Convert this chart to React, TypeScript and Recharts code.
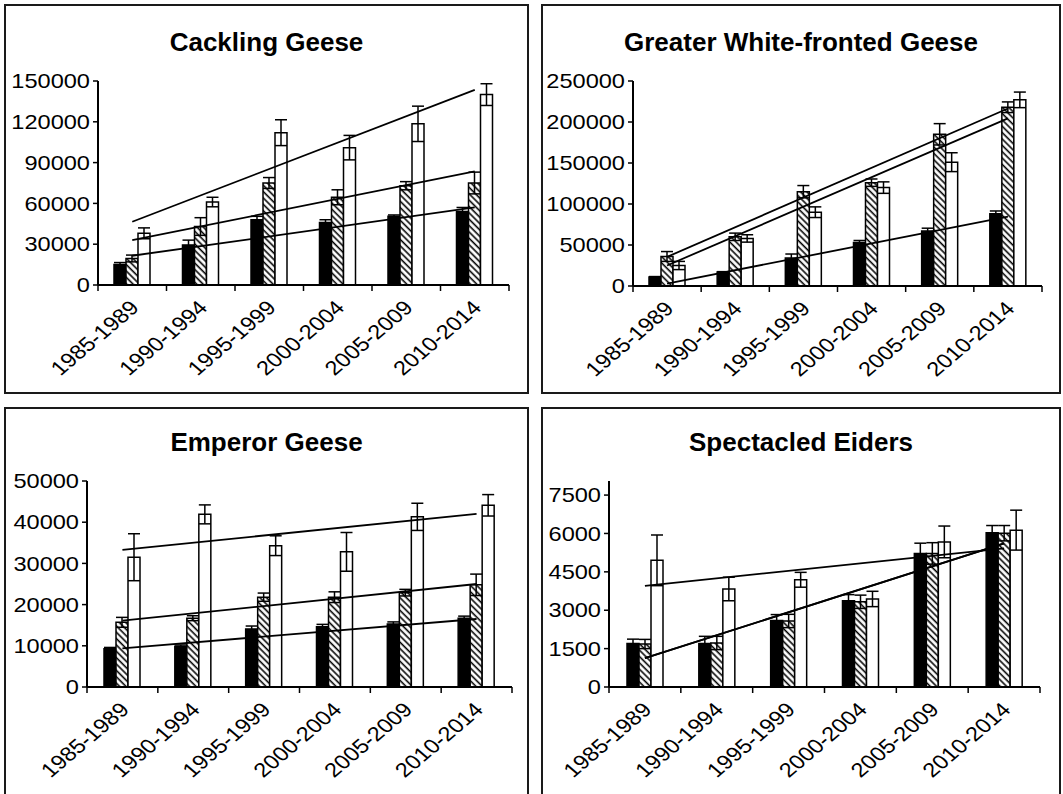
import React from "react";
import {
  ComposedChart,
  Bar,
  Line,
  XAxis,
  YAxis,
  ErrorBar,
  ReferenceArea,
} from "recharts";

const periods = ["1985-1989", "1990-1994", "1995-1999", "2000-2004", "2005-2009", "2010-2014"];

// Cackling Geese
const cacklingBlack = [15000, 29500, 48000, 46000, 50500, 54000];
const cacklingBlackErr = [1500, 3500, 2500, 2000, 1000, 3000];
const cacklingHatched = [19500, 43000, 75000, 64500, 73000, 75000];
const cacklingHatchedErr = [2500, 6500, 4000, 5500, 3000, 8000];
const cacklingWhite = [38000, 61000, 112000, 101000, 118500, 140000];
const cacklingWhiteErr = [4000, 3500, 9500, 9000, 13000, 8000];
const cacklingBlackTrend = [21500, null, null, null, null, 57000];
const cacklingHatchedTrend = [33000, null, null, null, null, 83500];
const cacklingWhiteTrend = [46500, null, null, null, null, 143500];
const cacklingTicks = [0, 30000, 60000, 90000, 120000, 150000];

// Greater White-fronted Geese
const gwfBlack = [11000, 17000, 34000, 53000, 67000, 88000];
const gwfBlackErr = [500, 500, 5000, 2500, 3500, 3500];
const gwfHatched = [36000, 60000, 115000, 126000, 185000, 218000];
const gwfHatchedErr = [6000, 4500, 7500, 4500, 13000, 6500];
const gwfWhite = [25000, 58000, 90000, 120000, 151000, 227000];
const gwfWhiteErr = [5000, 4500, 6500, 7000, 11500, 9500];
const gwfBlackTrend = [3000, null, null, null, null, 84500];
const gwfHatchedTrend = [35500, null, null, null, null, 216500];
const gwfWhiteTrend = [25000, null, null, null, null, 204500];
const gwfTicks = [0, 50000, 100000, 150000, 200000, 250000];

// Emperor Geese
const emperorBlack = [9300, 9900, 14100, 14600, 15300, 16700];
const emperorBlackErr = [300, 300, 700, 600, 500, 500];
const emperorHatched = [15700, 16700, 21800, 21800, 22900, 24800];
const emperorHatchedErr = [1200, 600, 1000, 1300, 800, 2600];
const emperorWhite = [31500, 41900, 34300, 32800, 41300, 44100];
const emperorWhiteErr = [5700, 2300, 2400, 4700, 3300, 2600];
const emperorBlackTrend = [9400, null, null, null, null, 16500];
const emperorHatchedTrend = [16100, null, null, null, null, 25000];
const emperorWhiteTrend = [33300, null, null, null, null, 42000];
const emperorTicks = [0, 10000, 20000, 30000, 40000, 50000];

// Spectacled Eiders
const eiderBlack = [1700, 1700, 2600, 3370, 5220, 6030];
const eiderBlackErr = [170, 280, 230, 240, 400, 280];
const eiderHatched = [1680, 1720, 2580, 3330, 5220, 6010];
const eiderHatchedErr = [180, 260, 260, 260, 420, 300];
const eiderWhite = [4950, 3830, 4190, 3440, 5670, 6130];
const eiderWhiteErr = [990, 460, 290, 300, 620, 780];
const eiderBlackTrend = [1130, null, null, null, null, 5610];
const eiderHatchedTrend = [1130, null, null, null, null, 5610];
const eiderWhiteTrend = [3950, null, null, null, null, 5420];
const eiderTicks = [0, 1500, 3000, 4500, 6000, 7500];

const FONT = '"Liberation Sans", Arial, Helvetica, sans-serif';
const STRETCH = 1.18; // tick labels in the source are drawn a bit wider than tall

type Series = (number | null)[];

type PanelProps = {
  id: string;
  title: string;
  left: number;
  top: number;
  width: number;
  titleTop: number;
  yMax: number;
  yTicks: number[];
  yWidth: number;
  marginTop: number;
  marginRight: number;
  xHeight: number;
  black: number[];
  blackErr: number[];
  hatched: number[];
  hatchedErr: number[];
  white: number[];
  whiteErr: number[];
  blackTrend: Series;
  hatchedTrend: Series;
  whiteTrend: Series;
};

const PANEL_H = 390;

function PeriodTick(props: any) {
  const { x, y, payload, index, half, last } = props;
  const ax = x + 8;
  const ay = y + 24;
  return (
    <g>
      <line x1={x - half} y1={y} x2={x - half} y2={y + 6} stroke="#000" strokeWidth={1.5} />
      {index === last && (
        <line x1={x + half} y1={y} x2={x + half} y2={y + 6} stroke="#000" strokeWidth={1.5} />
      )}
      <text
        x={0}
        y={0}
        textAnchor="end"
        transform={`translate(${ax} ${ay}) scale(${STRETCH} 1) rotate(-45)`}
        fontSize={20}
        fontFamily={FONT}
        fill="#000"
      >
        {payload.value}
      </text>
    </g>
  );
}

function CountTick(props: any) {
  const { x, y, payload } = props;
  return (
    <text
      x={0}
      y={0}
      dy="0.355em"
      textAnchor="end"
      transform={`translate(${x} ${y}) scale(${STRETCH} 1)`}
      fontSize={20}
      fontFamily={FONT}
      fill="#000"
    >
      {payload.value}
    </text>
  );
}

function Panel(p: PanelProps) {
  const chartW = p.width - 4;
  const chartH = PANEL_H - 4;
  const half = (chartW - p.yWidth - p.marginRight) / 6 / 2;

  const rows = periods.map((period, i) => ({
    period,
    black: p.black[i],
    blackErr: p.blackErr[i],
    hatched: p.hatched[i],
    hatchedErr: p.hatchedErr[i],
    white: p.white[i],
    whiteErr: p.whiteErr[i],
    blackTrend: p.blackTrend[i],
    hatchedTrend: p.hatchedTrend[i],
    whiteTrend: p.whiteTrend[i],
  }));

  const hatchId = `hatch-${p.id}`;

  return (
    <div
      style={{
        position: "absolute",
        left: p.left,
        top: p.top,
        width: p.width,
        height: PANEL_H,
        boxSizing: "border-box",
        border: "2px solid #1a1a1a",
        background: "#fff",
      }}
    >
      <div
        style={{
          position: "absolute",
          left: 0,
          right: 0,
          top: p.titleTop,
          textAlign: "center",
          fontFamily: FONT,
          fontWeight: "bold",
          fontSize: 26,
          lineHeight: "30px",
          color: "#000",
        }}
      >
        {p.title}
      </div>
      <ComposedChart
        width={chartW}
        height={chartH}
        data={rows}
        margin={{ top: p.marginTop, right: p.marginRight, bottom: 0, left: 0 }}
        barSize={12}
        barGap={0}
      >
        <defs>
          <pattern
            id={hatchId}
            patternUnits="userSpaceOnUse"
            width={4.5}
            height={4.5}
            patternTransform="rotate(-45)"
          >
            <rect width={4.5} height={4.5} fill="#fff" />
            <line x1={1.2} y1={0} x2={1.2} y2={4.5} stroke="#000" strokeWidth={1.6} />
          </pattern>
        </defs>
        <ReferenceArea fill="none" stroke="#000" strokeWidth={1.5} />
        <XAxis
          dataKey="period"
          interval={0}
          height={p.xHeight}
          tickLine={false}
          tickSize={0}
          tickMargin={0}
          axisLine={{ stroke: "#000", strokeWidth: 2 }}
          tick={(t: any) => <PeriodTick {...t} half={half} last={periods.length - 1} />}
        />
        <YAxis
          type="number"
          domain={[0, p.yMax]}
          ticks={p.yTicks}
          interval={0}
          allowDataOverflow
          width={p.yWidth}
          tickSize={5}
          tickMargin={3}
          axisLine={{ stroke: "#000", strokeWidth: 2 }}
          tickLine={{ stroke: "#000", strokeWidth: 1.5 }}
          tick={(t: any) => <CountTick {...t} />}
        />
        <Bar dataKey="black" fill="#000" stroke="#000" strokeWidth={1.5} isAnimationActive={false}>
          <ErrorBar dataKey="blackErr" width={6} stroke="#000" strokeWidth={1.5} />
        </Bar>
        <Bar dataKey="hatched" fill={`url(#${hatchId})`} stroke="#000" strokeWidth={1.5} isAnimationActive={false}>
          <ErrorBar dataKey="hatchedErr" width={6} stroke="#000" strokeWidth={1.5} />
        </Bar>
        <Bar dataKey="white" fill="#fff" stroke="#000" strokeWidth={1.5} isAnimationActive={false}>
          <ErrorBar dataKey="whiteErr" width={6} stroke="#000" strokeWidth={1.5} />
        </Bar>
        <Line dataKey="blackTrend" type="linear" connectNulls dot={false} activeDot={false} stroke="#000" strokeWidth={1.8} isAnimationActive={false} />
        <Line dataKey="hatchedTrend" type="linear" connectNulls dot={false} activeDot={false} stroke="#000" strokeWidth={1.8} isAnimationActive={false} />
        <Line dataKey="whiteTrend" type="linear" connectNulls dot={false} activeDot={false} stroke="#000" strokeWidth={1.8} isAnimationActive={false} />
      </ComposedChart>
    </div>
  );
}

export default function App() {
  return (
    <div
      style={{
        position: "fixed",
        left: 0,
        top: 0,
        width: 1063,
        height: 794,
        overflow: "hidden",
        background: "#fff",
      }}
    >
      <Panel
        id="cackling"
        title="Cackling Geese"
        left={4}
        top={4}
        width={525}
        titleTop={21}
        yMax={150000}
        yTicks={cacklingTicks}
        yWidth={92}
        marginTop={75}
        marginRight={18}
        xHeight={107}
        black={cacklingBlack}
        blackErr={cacklingBlackErr}
        hatched={cacklingHatched}
        hatchedErr={cacklingHatchedErr}
        white={cacklingWhite}
        whiteErr={cacklingWhiteErr}
        blackTrend={cacklingBlackTrend}
        hatchedTrend={cacklingHatchedTrend}
        whiteTrend={cacklingWhiteTrend}
      />
      <Panel
        id="gwf"
        title="Greater White-fronted Geese"
        left={541}
        top={4}
        width={520}
        titleTop={21}
        yMax={250000}
        yTicks={gwfTicks}
        yWidth={90}
        marginTop={75}
        marginRight={17}
        xHeight={106}
        black={gwfBlack}
        blackErr={gwfBlackErr}
        hatched={gwfHatched}
        hatchedErr={gwfHatchedErr}
        white={gwfWhite}
        whiteErr={gwfWhiteErr}
        blackTrend={gwfBlackTrend}
        hatchedTrend={gwfHatchedTrend}
        whiteTrend={gwfWhiteTrend}
      />
      <Panel
        id="emperor"
        title="Emperor Geese"
        left={4}
        top={407}
        width={525}
        titleTop={18}
        yMax={50000}
        yTicks={emperorTicks}
        yWidth={81}
        marginTop={72}
        marginRight={15}
        xHeight={108}
        black={emperorBlack}
        blackErr={emperorBlackErr}
        hatched={emperorHatched}
        hatchedErr={emperorHatchedErr}
        white={emperorWhite}
        whiteErr={emperorWhiteErr}
        blackTrend={emperorBlackTrend}
        hatchedTrend={emperorHatchedTrend}
        whiteTrend={emperorWhiteTrend}
      />
      <Panel
        id="eider"
        title="Spectacled Eiders"
        left={541}
        top={407}
        width={520}
        titleTop={18}
        yMax={8050}
        yTicks={eiderTicks}
        yWidth={66}
        marginTop={72}
        marginRight={19}
        xHeight={108}
        black={eiderBlack}
        blackErr={eiderBlackErr}
        hatched={eiderHatched}
        hatchedErr={eiderHatchedErr}
        white={eiderWhite}
        whiteErr={eiderWhiteErr}
        blackTrend={eiderBlackTrend}
        hatchedTrend={eiderHatchedTrend}
        whiteTrend={eiderWhiteTrend}
      />
    </div>
  );
}
